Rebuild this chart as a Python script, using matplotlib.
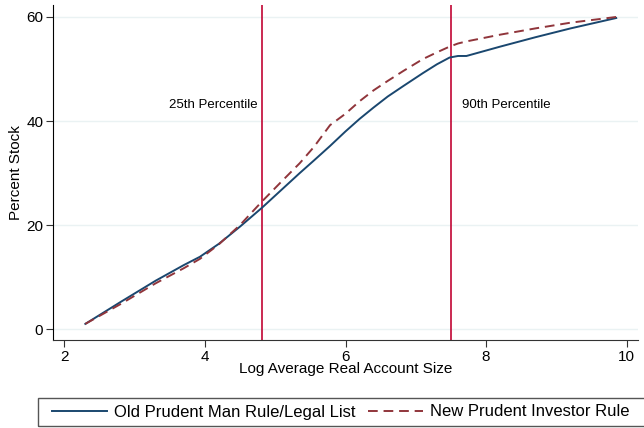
import matplotlib
matplotlib.use("Agg")
import matplotlib.pyplot as plt
from matplotlib.patches import Rectangle

plt.rcParams['font.family'] = ['Liberation Sans', 'DejaVu Sans']

# curves
log_size = [2.3, 2.8, 3.3, 3.7, 3.93, 4.2, 4.5, 4.81, 5.1, 5.35, 5.55, 5.78, 6.0, 6.2, 6.4, 6.6, 6.82, 7.1, 7.3, 7.48, 7.6, 7.72, 8.2, 8.7, 9.2, 9.85]
old_rule = [1.0, 5.2, 9.3, 12.3, 13.9, 16.4, 19.7, 23.3, 26.9, 30.0, 32.4, 35.2, 38.0, 40.4, 42.6, 44.7, 46.7, 49.2, 50.9, 52.2, 52.5, 52.5, 54.3, 56.1, 57.8, 59.8]
new_rule = [1.0, 4.8, 8.8, 11.7, 13.5, 16.3, 20.0, 24.5, 28.5, 31.9, 35.0, 39.2, 41.4, 43.8, 45.9, 47.7, 49.6, 51.9, 53.2, 54.3, 54.9, 55.3, 56.6, 57.8, 58.9, 60.0]

pct_lines = [4.81, 7.50]
pct_labels = ["25th Percentile", "90th Percentile"]

fig = plt.figure(figsize=(6.44, 4.28), dpi=100)
ax = fig.add_axes([53/644, 1 - 340/428, 585/644, 335/428])

for yv in [0, 20, 40, 60]:
    ax.axhline(yv, color="#eaf2f3", lw=1.0, zorder=0)

ax.plot(log_size, old_rule, color="#1a476f", lw=1.4, label="Old Prudent Man Rule/Legal List", zorder=3)
ax.plot(log_size, new_rule, color="#90353b", lw=1.4, ls=(0, (5, 3)), label="New Prudent Investor Rule", zorder=3)

for xv in pct_lines:
    ax.axvline(xv, color="#c10534", lw=1.2, zorder=2)
ax.text(pct_lines[0] - 0.06, 43, pct_labels[0], ha="right", va="center", fontsize=9.5)
ax.text(pct_lines[1] + 0.16, 43, pct_labels[1], ha="left", va="center", fontsize=9.5)

ax.set_xlim(1.84, 10.16)
ax.set_ylim(-2.1, 62.3)
ax.set_xticks([2, 4, 6, 8, 10])
ax.set_yticks([0, 20, 40, 60])
ax.tick_params(labelsize=11, length=5, color="#333333", pad=2)
ax.set_xlabel("Log Average Real Account Size", fontsize=11, labelpad=-1)
ax.set_ylabel("Percent Stock", fontsize=11, labelpad=2)
ax.spines["top"].set_visible(False)
ax.spines["right"].set_visible(False)
ax.spines["left"].set_color("black")
ax.spines["bottom"].set_color("#333333")

# legend box runs off the right edge in the reference, so draw the frame by hand
fig.add_artist(Rectangle((38/644, 2/428), 620/644, 28/428, transform=fig.transFigure,
                         fill=False, ec="#555555", lw=1.0))
leg = fig.legend(loc="center left", bbox_to_anchor=(52/644, 1 - 412/428), ncol=2, fontsize=12.0,
                 frameon=False, handlelength=3.3, handletextpad=0.45, columnspacing=0.7,
                 borderpad=0, borderaxespad=0)

fig.savefig("out.png", dpi=100)
